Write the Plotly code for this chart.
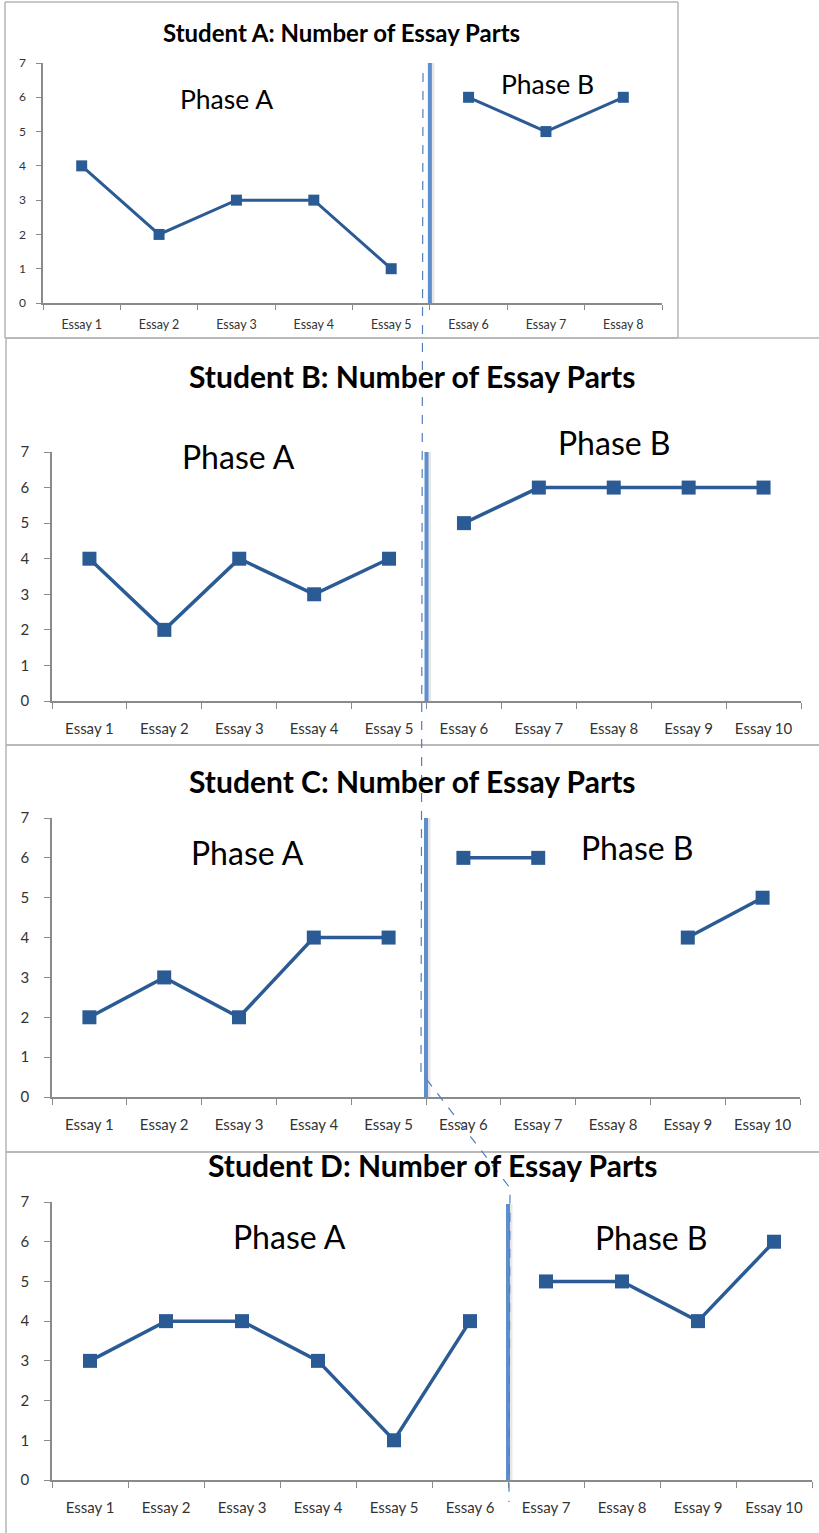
import plotly.graph_objects as go

W, H = 819, 1533

essays_8 = ["Essay %d" % i for i in range(1, 9)]
essays_10 = ["Essay %d" % i for i in range(1, 11)]

student_a = [4, 2, 3, 3, 1, 6, 5, 6]
student_b = [4, 2, 4, 3, 4, 5, 6, 6, 6, 6]
student_c = [2, 3, 2, 4, 4, 6, 6, None, 4, 5]
student_d = [3, 4, 4, 3, 1, 4, 5, 5, 4, 6]

# number of essays in phase A for each student
split_a, split_b, split_c, split_d = 5, 5, 5, 6

titles = ["Student A: Number of Essay Parts", "Student B: Number of Essay Parts",
          "Student C: Number of Essay Parts", "Student D: Number of Essay Parts"]

FONT = "Lato, Carlito, sans-serif"
LINE = "#2b5b94"
PHASE = "#5e8fcc"
AXIS = "#8a8a8a"
FRAME = "#b4b4b4"


def px(x):
    return x / W


def py(y):
    return 1 - y / H


# panel layout in pixels: plot box (x0, x1, ytop, ybottom)
panels = [
    dict(cats=essays_8, vals=student_a, split=split_a, box=(43, 662, 63, 303),
         small=True, line_top=7.05, frame=(5, 678, 2, 338),
         title=(341, 32), pa=(226, 99), pb=(547, 84)),
    dict(cats=essays_10, vals=student_b, split=split_b, box=(52, 801, 452, 701),
         small=False, line_top=7.6, frame=(6, None, 338, 745),
         title=(412, 376), pa=(238, 456), pb=(614, 442)),
    dict(cats=essays_10, vals=student_c, split=split_c, box=(52, 800, 818, 1097),
         small=False, line_top=7.05, frame=(6, None, 745, 1152),
         title=(412, 781), pa=(247, 852), pb=(637, 847)),
    dict(cats=essays_10, vals=student_d, split=split_d, box=(52, 812, 1202, 1480),
         small=False, line_top=6.95, frame=(6, None, 1152, None),
         title=(432, 1165), pa=(289, 1236), pb=(651, 1237)),
]

fig = go.Figure()
shapes = []
annotations = []

for i, p in enumerate(panels):
    n = i + 1
    xa = "x" if n == 1 else "x%d" % n
    ya = "y" if n == 1 else "y%d" % n
    cats, vals, s = p["cats"], p["vals"], p["split"]
    msize = 11 if p["small"] else 14
    lw = 3 if p["small"] else 3.5

    for xs, ys in ((cats[:s], vals[:s]), (cats[s:], vals[s:])):
        fig.add_trace(go.Scatter(
            x=xs, y=ys, xaxis=xa, yaxis=ya, mode="lines+markers",
            line=dict(color=LINE, width=lw),
            marker=dict(symbol="square", size=msize, color=LINE),
            connectgaps=False, showlegend=False, hoverinfo="x+y"))

    x0, x1, yt, yb = p["box"]
    ytick_font = 12 if p["small"] else 15
    xtick_font = 12.5 if p["small"] else 15
    fig.layout["xaxis" if n == 1 else "xaxis%d" % n] = dict(
        domain=[px(x0), px(x1)], anchor=ya, type="category",
        categoryorder="array", categoryarray=cats,
        range=[-0.5, len(cats) - 0.5], tickson="boundaries",
        ticks="outside", ticklen=5 if p["small"] else 6, tickcolor=AXIS,
        showline=True, linecolor=AXIS, linewidth=1.5, showgrid=False,
        tickfont=dict(family=FONT, size=xtick_font, color="#333333"),
        ticklabelstandoff=9 if p["small"] else 13, fixedrange=True,
        automargin=False)
    fig.layout["yaxis" if n == 1 else "yaxis%d" % n] = dict(
        domain=[py(yb), py(yt)], anchor=xa, range=[0, 7], dtick=1,
        ticks="outside", ticklen=5 if p["small"] else 6, tickcolor=AXIS,
        showline=True, linecolor=AXIS, linewidth=1.5, showgrid=False,
        zeroline=False, tickfont=dict(family=FONT, size=ytick_font, color="#333333"),
        ticklabelstandoff=8 if p["small"] else 12, fixedrange=True,
        automargin=False)

    # panel frame: top and left edges, plus right/bottom where visible
    fx0, fx1, fy0, fy1 = p["frame"]
    right = fx1 if fx1 is not None else W
    bottom = fy1 if fy1 is not None else H
    edges = [(fx0, fy0, right, fy0), (fx0, fy0, fx0, bottom)]
    if fx1 is not None:
        edges.append((fx1, fy0, fx1, bottom))
    if fy1 is not None:
        edges.append((fx0, fy1, right, fy1))
    for ex0, ey0, ex1, ey1 in edges:
        shapes.append(dict(type="line", xref="paper", yref="paper",
                           x0=px(ex0), x1=px(ex1), y0=py(ey0), y1=py(ey1),
                           line=dict(color=FRAME, width=1.5), layer="below"))

    # phase change line (with soft shadow)
    shapes.append(dict(type="line", xref=xa, yref=ya, x0=s - 0.5 + 0.02, x1=s - 0.5 + 0.02,
                       y0=0, y1=p["line_top"], line=dict(color="rgba(120,120,120,0.18)", width=6)))
    shapes.append(dict(type="line", xref=xa, yref=ya, x0=s - 0.5, x1=s - 0.5,
                       y0=0, y1=p["line_top"], line=dict(color=PHASE, width=4)))

    annotations.append(dict(text="<b>%s</b>" % titles[i], xref="paper", yref="paper",
                            x=px(p["title"][0]), y=py(p["title"][1]), showarrow=False,
                            xanchor="center", yanchor="middle",
                            font=dict(family=FONT, size=24 if p["small"] else 30, color="#000")))
    for label, pos in (("Phase A", p["pa"]), ("Phase B", p["pb"])):
        annotations.append(dict(text=label, xref="paper", yref="paper",
                                x=px(pos[0]), y=py(pos[1]), showarrow=False,
                                xanchor="center", yanchor="middle",
                                font=dict(family=FONT, size=26.5 if p["small"] else 32, color="#000")))

# dashed connector through the phase change points
pts = [(423, 73), (421, 1072), (510, 1188), (509, 1502)]
path = "M " + " L ".join("%.5f,%.5f" % (px(x), py(y)) for x, y in pts)
shapes.append(dict(type="path", xref="paper", yref="paper", path=path,
                   line=dict(color="#4f7fbf", width=1.2, dash="dash")))

fig.update_layout(
    width=W, height=H, autosize=False,
    margin=dict(l=0, r=0, t=0, b=0, pad=0, autoexpand=False),
    paper_bgcolor="white", plot_bgcolor="white",
    shapes=shapes, annotations=annotations, showlegend=False,
    font=dict(family=FONT),
)

fig.write_html(
    "out.html",
    config={"displayModeBar": False},
    post_script=("document.documentElement.style.margin='0';"
                 "document.body.style.margin='0';"
                 "document.body.style.fontSize='0';"
                 "document.body.style.lineHeight='0';"
                 "document.body.style.overflow='hidden';"),
)
